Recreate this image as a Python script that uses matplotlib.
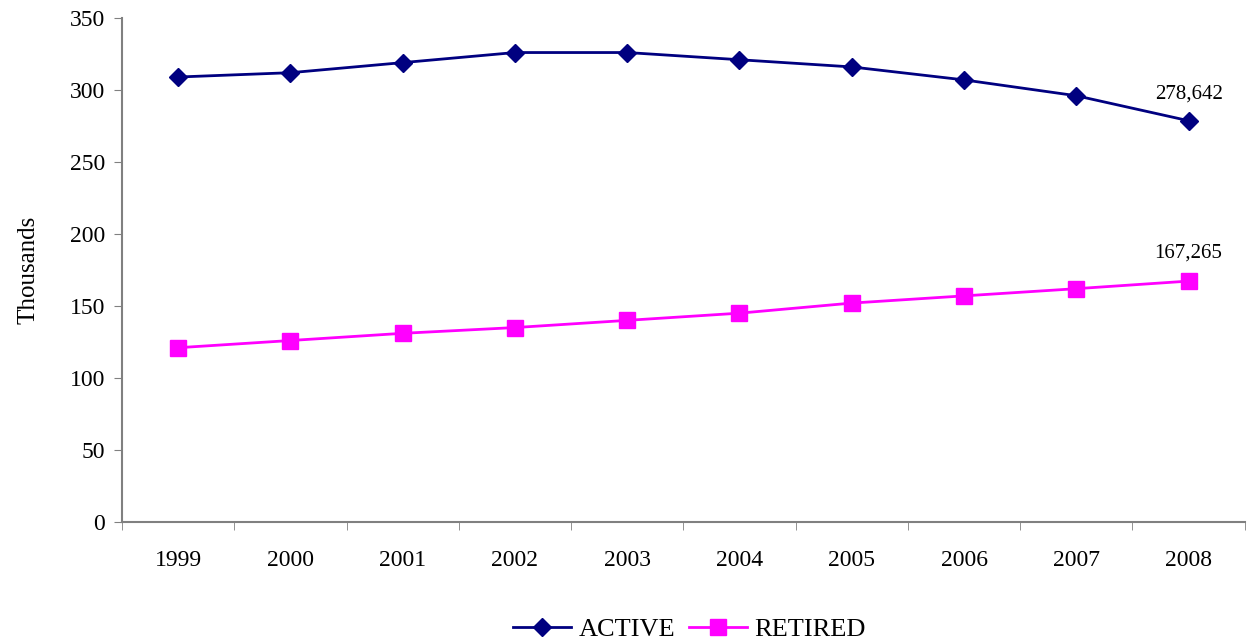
#!/usr/bin/env python3
"""Active vs retired members, 1999-2008"""

import numpy as np
import matplotlib; matplotlib.use('Agg')
import matplotlib.pyplot as plt

years = ['1999', '2000', '2001', '2002', '2003', '2004', '2005', '2006', '2007', '2008']
active = [309.0, 312.0, 319.0, 326.0, 326.0, 321.0, 316.0, 307.0, 296.0, 278.642]
retired = [121.0, 126.0, 131.0, 135.0, 140.0, 145.0, 152.0, 157.0, 162.0, 167.265]
end_labels = ['278,642', '167,265']

##########################################################
def main():
    plt.rcParams['font.family'] = ['Liberation Serif', 'DejaVu Serif']
    fig = plt.figure(figsize=(12.51, 6.42), dpi=100)
    ax = fig.add_axes([0.0975, 0.187, 0.8975, 0.785])

    x = np.arange(len(years))
    ax.plot(x, active, color='#000080', lw=2, marker='D', ms=9, label='ACTIVE')
    ax.plot(x, retired, color='#ff00ff', lw=2, marker='s', ms=11, label='RETIRED')

    ax.annotate(end_labels[0], (x[-1], active[-1]), xytext=(0, 16),
                textcoords='offset points', ha='center', fontsize=15)
    ax.annotate(end_labels[1], (x[-1], retired[-1]), xytext=(0, 17),
                textcoords='offset points', ha='center', fontsize=15)

    ax.set_xlim(-0.5, len(years) - 0.5)
    ax.set_ylim(0, 350)
    ax.set_yticks(np.arange(0, 351, 50))
    ax.set_xticks(x)
    ax.set_xticklabels(years)
    ax.set_xticks(np.arange(-0.5, len(years), 1.0), minor=True)
    ax.tick_params(axis='x', which='major', length=0, pad=20, labelsize=17)
    ax.tick_params(axis='x', which='minor', length=6, color='#808080', direction='out')
    ax.tick_params(axis='y', length=6, color='#808080', labelsize=17, pad=6)
    for s in ['top', 'right']:
        ax.spines[s].set_visible(False)
    for s in ['left', 'bottom']:
        ax.spines[s].set_color('#808080')
        ax.spines[s].set_linewidth(1.5)
    ax.set_ylabel('Thousands', fontsize=18, labelpad=22)

    fig.legend(loc='lower center', bbox_to_anchor=(0.551, -0.036), ncol=2, frameon=False,
               fontsize=19, handlelength=2.2, columnspacing=0.5, handletextpad=0.3)
    plt.savefig('out.png', dpi=100)

##########################################################
if __name__ == "__main__":
    main()
